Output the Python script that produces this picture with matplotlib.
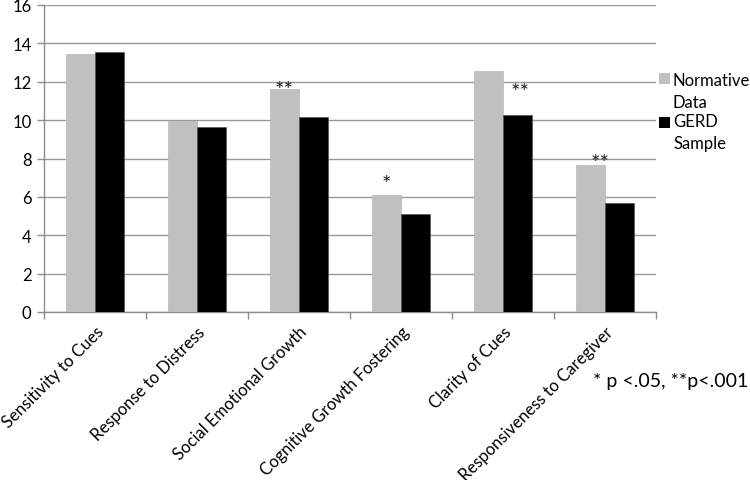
import matplotlib
matplotlib.use("Agg")
import matplotlib.pyplot as plt
from matplotlib.patches import Rectangle
import numpy as np

categories = ["Sensitivity to Cues", "Response to Distress", "Social Emotional Growth",
              "Cognitive Growth Fostering", "Clarity of Cues", "Responsiveness to Caregiver"]
normative = [13.45, 9.96, 11.62, 6.09, 12.55, 7.64]
gerd = [13.54, 9.66, 10.16, 5.13, 10.29, 5.66]
stars = ["", "", "**", "*", "**", "**"]
series_names = ["Normative\nData", "GERD\nSample"]
series_colors = ["#c0c0c0", "#000000"]
yticks = [0, 2, 4, 6, 8, 10, 12, 14, 16]

plt.rcParams['font.family'] = ['Lato', 'DejaVu Sans']

fig = plt.figure(figsize=(7.5, 4.81), dpi=100)
ax = fig.add_axes([44/750, 1-313/481, (656-44)/750, (313-6)/481])

x = np.arange(len(categories))
w = 0.285
ax.bar(x - w/2, normative, w, color=series_colors[0], edgecolor="#b8b8b8", linewidth=0.5, zorder=3)
ax.bar(x + w/2, gerd, w, color=series_colors[1], edgecolor="#555555", linewidth=0.5, zorder=3)

# star annotation placement (x shift in category units, y baseline in data units)
star_place = {2: (-w/2, 11.07), 3: (-w/2, 6.13), 4: (w/2 + 0.03, 10.96), 5: (-w/2 + 0.09, 7.22)}
for i, s in enumerate(stars):
    if not s:
        continue
    dx, yy = star_place[i]
    ax.text(x[i] + dx, yy, s, ha="center", va="bottom", fontsize=16, color="#222222")

ax.set_xlim(-0.5, len(categories) - 0.5)
ax.set_ylim(0, 16)
ax.set_yticks(yticks)
ax.set_yticklabels([str(t) for t in yticks], fontsize=12)
ax.yaxis.grid(True, color="#999999", linewidth=1.0, zorder=0)
ax.set_axisbelow(True)

ax.set_xticks(np.arange(len(categories) + 1) - 0.5, minor=False)
ax.set_xticklabels([])
ax.set_xticks(x, minor=True)
ax.set_xticklabels(categories, minor=True, rotation=45, ha="right", rotation_mode="anchor",
                   fontsize=12)
ax.tick_params(axis="x", which="minor", length=0, pad=8)
ax.tick_params(axis="x", which="major", length=5, color="#8c8c8c", width=1)
ax.tick_params(axis="y", length=5, color="#8c8c8c", width=1, pad=4)

for sp in ["top", "right"]:
    ax.spines[sp].set_visible(False)
for sp in ["left", "bottom"]:
    ax.spines[sp].set_color("#8c8c8c")
    ax.spines[sp].set_linewidth(1.0)

# legend (manual, handle aligned with first text line)
W, H = 750.0, 481.0
leg_sq_tops = [74, 118]
leg_text_centers = [92, 133]
for name, col, top, cy in zip(series_names, series_colors, leg_sq_tops, leg_text_centers):
    fig.add_artist(Rectangle((659/W, 1 - (top + 11)/H), 11/W, 11/H, transform=fig.transFigure,
                             facecolor=col, edgecolor="none"))
    fig.text(673/W, 1 - cy/H, name, ha="left", va="center", fontsize=12,
             linespacing=1.48)

fig.text(0.998, 1 - 382/481, "* p <.05, **p<.001", ha="right", va="center", fontsize=14)

fig.savefig("out.png", dpi=100)
